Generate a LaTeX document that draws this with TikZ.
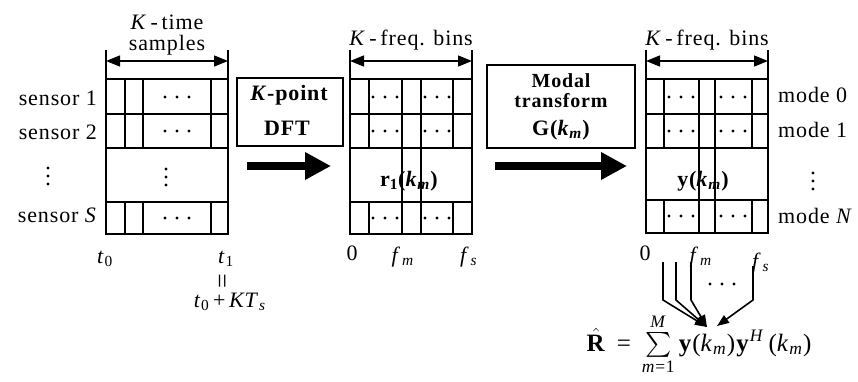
\documentclass[tikz,border=0pt]{standalone}
\usepackage{amsmath}
\usepackage{fontspec}
\setmainfont{Liberation Serif}[LetterSpace=4]
\usetikzlibrary{arrows.meta}
\newcommand\ti[1]{\textit{#1}}
\newcommand\sbm[1]{\textsubscript{#1}}
\begin{document}
\begin{tikzpicture}[x=1pt,y=-1pt,
  lbl/.style={font=\fontsize{22}{24}\selectfont, inner sep=0pt},
  bl/.style={lbl, anchor=base},
  boxtext/.style={anchor=base, inner sep=0pt, font=\fontsize{22}{24}\selectfont\bfseries},
  gridline/.style={line width=2.4pt},
  thinline/.style={line width=2pt},
  dimarrow/.style={line width=1.4pt, {Triangle[length=14pt,width=11pt]}-{Triangle[length=14pt,width=11pt]}},
  bigarrow/.style={line width=8pt, -{Triangle[length=26pt,width=26pt]}},
  conv/.style={line width=1.6pt, -{Triangle[length=12pt,width=9pt]}},
  procbox/.style={draw, line width=2.4pt, inner sep=0pt},
  hd/.pic={\foreach \d in {-12,0,12} \fill (\d,0) circle (1.7pt);},
  vd/.pic={\foreach \d in {-8,0,8} \fill (0,\d) circle (1.7pt);}
]
\useasboundingbox (0,0) rectangle (858,381);

% ---------- grid 1: time samples ----------
\draw[gridline] (106,79) rectangle (228,234);
\foreach \y in {114,148,202} \draw[gridline] (106,\y) -- (228,\y);
\foreach \x in {125,143,211} {
  \draw[thinline] (\x,79) -- (\x,148);
  \draw[thinline] (\x,202) -- (\x,234);
}
\pic at (177,97) {hd};
\pic at (177,131) {hd};
\pic at (177,218) {hd};
\pic at (166,177) {vd};
\draw[gridline] (106,79) -- (106,50);
\draw[gridline] (228,79) -- (228,50);
\coordinate (g1l) at (106,61);
\coordinate (g1r) at (228,61);
\draw[dimarrow] (g1l) -- (g1r);
\node[bl] (kt1) at (167,29) {\ti{K}\,-\,time};
\node[bl] (kt2) at (167,50) {samples};

\node[bl, anchor=base east] (s1) at (97,105) {sensor 1};
\node[bl, anchor=base east] (s2) at (97,139) {sensor 2};
\pic at (48,176) {vd};
\node[bl, anchor=base east] (sS) at (97,222) {sensor \ti{S}};

\node[bl] (t0) at (105,263) {\ti{t}\sbm{0}};
\node[bl] (t1) at (226,263) {\ti{t}\sbm{1}};
\node[lbl, rotate=90, font=\fontsize{26}{28}\selectfont] (eq) at (225,281) {=};
\node[bl] (t0k) at (230,307) {\ti{t}\sbm{0}\,+\,\ti{KT}\sbm{\ti{s}}};

% ---------- DFT box ----------
\node[procbox, minimum width=106pt, minimum height=68pt] (dft) at (290,112) {};
\node[boxtext] (dft1) at (289,100) {\ti{K}-point};
\node[boxtext] (dft2) at (287,135) {DFT};
\coordinate (a1s) at (247,166);
\coordinate (a1e) at (331,166);
\draw[bigarrow] (a1s) -- (a1e);

% ---------- grid 2: frequency bins ----------
\draw[gridline] (350,79) rectangle (472,234);
\foreach \y in {114,148,202} \draw[gridline] (350,\y) -- (472,\y);
\foreach \x in {369,453} {
  \draw[thinline] (\x,79) -- (\x,148);
  \draw[thinline] (\x,202) -- (\x,234);
}
\foreach \x in {402,421} \draw[gridline] (\x,79) -- (\x,234);
\foreach \y in {97,131,218} {\pic at (385,\y) {hd}; \pic at (437,\y) {hd};}
\node[bl, font=\fontsize{22}{24}\selectfont\bfseries] (r1) at (409,186) {r\sbm{1}(\ti{k}\sbm{\ti{m}})};
\draw[gridline] (350,79) -- (350,50);
\draw[gridline] (472,79) -- (472,50);
\coordinate (g2l) at (350,61);
\coordinate (g2r) at (472,61);
\draw[dimarrow] (g2l) -- (g2r);
\node[bl] (kf2) at (411,45) {\ti{K}\,-\,freq. bins};
\node[bl] (z2) at (352,260) {0};
\node[bl] (fm2) at (403,262) {\ti{f}\kern1pt\sbm{\ti{m}}};
\node[bl] (fs2) at (469,262) {\ti{f}\kern1pt\sbm{\ti{s}}};

% ---------- Modal box ----------
\node[procbox, minimum width=148pt, minimum height=83pt] (modal) at (561,106.5) {};
\node[boxtext, font=\fontsize{20}{22}\selectfont\bfseries] (md1) at (561,87) {Modal};
\node[boxtext, font=\fontsize{20}{22}\selectfont\bfseries] (md2) at (561,107) {transform};
\node[boxtext] (md3) at (561,135) {G(\ti{k}\sbm{\ti{m}})};
\coordinate (a2s) at (495,166);
\coordinate (a2e) at (627,166);
\draw[bigarrow] (a2s) -- (a2e);

% ---------- grid 3: modes ----------
\draw[gridline] (646,79) rectangle (768,233);
\foreach \y in {114,148,200} \draw[gridline] (646,\y) -- (768,\y);
\foreach \x in {664,752} {
  \draw[thinline] (\x,79) -- (\x,148);
  \draw[thinline] (\x,200) -- (\x,233);
}
\foreach \x in {699,715} \draw[gridline] (\x,79) -- (\x,233);
\foreach \y in {97,131,216} {\pic at (681,\y) {hd}; \pic at (733,\y) {hd};}
\node[bl, font=\fontsize{22}{24}\selectfont\bfseries] (yk) at (703,186) {y(\ti{k}\sbm{\ti{m}})};
\draw[gridline] (646,79) -- (646,50);
\draw[gridline] (768,79) -- (768,50);
\coordinate (g3l) at (646,61);
\coordinate (g3r) at (768,61);
\draw[dimarrow] (g3l) -- (g3r);
\node[bl] (kf3) at (707,45) {\ti{K}\,-\,freq. bins};

\node[bl, anchor=base west] (m0) at (778,102) {mode 0};
\node[bl, anchor=base west] (m1) at (778,137) {mode 1};
\pic at (813,181) {vd};
\node[bl, anchor=base west] (mN) at (778,223) {mode \ti{N}};

\node[bl] (z3) at (645,260) {0};
\node[bl] (fm3) at (701,262) {\ti{f}\kern1pt\sbm{\ti{m}}};
\node[bl] (fs3) at (761,268) {\ti{f}\kern1pt\sbm{\ti{s}}};

% ---------- converging lines ----------
\coordinate (tipA) at (707,327);
\coordinate (tipB) at (717,326);
\foreach \x in {663,676,691} \draw[conv] (\x,262) -- (\x,300) -- (tipA);
\draw[conv] (753,266) -- (753,300) -- (tipB);
\pic at (722,284) {hd};

\node[bl, font=\fontsize{25}{27}\selectfont] (Rhat) at (699,351)
  {$\hat{\text{\textbf{R}}} \,\mathrel{\text{=}}\, \textstyle\sum\limits_{\text{\ti{m}=1}}^{\text{\ti{M}}}$\,\textbf{y}(\ti{k}\sbm{\ti{m}})\textbf{y}\textsuperscript{\ti{H}}\,(\ti{k}\sbm{\ti{m}})};
\end{tikzpicture}
\end{document}
